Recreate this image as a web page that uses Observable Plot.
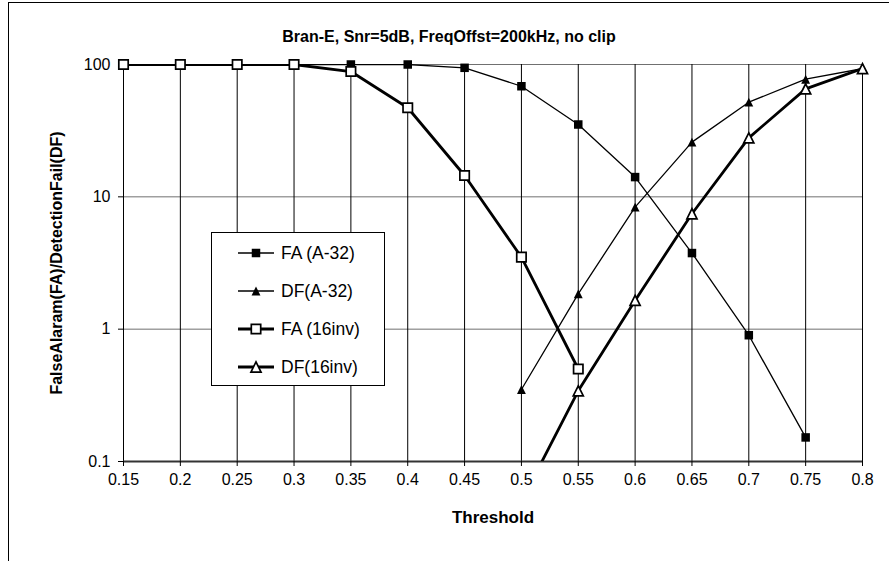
<!DOCTYPE html>
<html><head><meta charset="utf-8">
<script src="https://cdn.jsdelivr.net/npm/d3@7"></script>
<script src="https://cdn.jsdelivr.net/npm/@observablehq/plot@0.6"></script>
<style>
body{margin:0;background:#fff;font-family:"Liberation Sans",Arial,sans-serif;}
#wrap{position:relative;width:889px;height:561px;overflow:hidden;background:#fff;}
#wrap svg.plot{position:absolute;left:0;top:0;}
#frame{position:absolute;left:8px;top:2px;width:900px;height:600px;border-left:1px solid #000;border-top:1px solid #000;pointer-events:none}
#legend{position:absolute;left:211px;top:232px;width:172px;height:152px;border:1px solid #000;background:#fff;}
.item{position:absolute;left:0;height:20px;width:172px;}
.item svg{position:absolute;left:24px;top:0;}
.item span{position:absolute;left:69px;top:0;line-height:20px;font-size:17.5px;color:#000;white-space:nowrap;}
</style></head><body><div id="wrap"><div id="frame"></div></div>
<script>
// ---- data ----
const thresholds = [0.15,0.2,0.25,0.3,0.35,0.4,0.45,0.5,0.55,0.6,0.65,0.7,0.75,0.8];
const xTickLabels = ["0.15","0.2","0.25","0.3","0.35","0.4","0.45","0.5","0.55","0.6","0.65","0.7","0.75","0.8"];
const yTicks = [0.1,1,10,100];
const yTickLabels = ["0.1","1","10","100"];
const seriesNames = ["FA (A-32)","DF(A-32)","FA (16inv)","DF(16inv)"];
const faA32 = [100,100,100,100,100,100,94.4,68.5,35.2,14.1,3.76,0.9,0.152,null];
const dfA32 = [null,null,null,null,null,null,null,0.35,1.85,8.36,25.9,51.9,77.4,93];
const fa16inv = [100,100,100,100,88.5,47.1,14.5,3.5,0.5,null,null,null,null,null];
const df16inv = [null,null,null,null,null,null,null,0.05,0.342,1.65,7.45,27.9,65.5,93];
const titleText = "Bran-E, Snr=5dB, FreqOffst=200kHz, no clip";
const xLabel = "Threshold";
const yLabel = "FalseAlaram(FA)/DetectionFail(DF)";

// ---- symbols (Excel-like: square, isosceles triangle with equal width/height) ----
const sqSym = {draw(ctx, size){const s=Math.sqrt(size)/2; ctx.moveTo(-s,-s); ctx.lineTo(s,-s); ctx.lineTo(s,s); ctx.lineTo(-s,s); ctx.closePath();}};
const triSym = {draw(ctx, size){const s=Math.sqrt(size)/2; ctx.moveTo(0,-s); ctx.lineTo(s,s); ctx.lineTo(-s,s); ctx.closePath();}};

const styles = [
  {vals: faA32, sym: sqSym, r: 4.8, fill: "#000", stroke: "none", sw: 0, lw: 1.3},
  {vals: dfA32, sym: triSym, r: 5.0, fill: "#000", stroke: "none", sw: 0, lw: 1.3},
  {vals: fa16inv, sym: sqSym, r: 5.3, fill: "#fff", stroke: "#000", sw: 1.7, lw: 2.8},
  {vals: df16inv, sym: triSym, r: 5.7, fill: "#fff", stroke: "#000", sw: 1.7, lw: 2.8}
];

const rowsFor = (name, vals) => thresholds.map((x,i)=>({series:name, x, y: vals[i]})).filter(d=>d.y!=null);
const xFmt = d => xTickLabels[thresholds.findIndex(t=>Math.abs(t-d)<1e-9)];
const yFmt = d => yTickLabels[yTicks.findIndex(t=>Math.abs(t-d)<1e-9)];

const font = '"Liberation Sans", Arial, sans-serif';
const seriesMarks = [];
styles.forEach((s, k) => {
  const data = rowsFor(seriesNames[k], s.vals);
  seriesMarks.push(Plot.line(data, {x:"x", y:"y", stroke:"#000", strokeWidth:s.lw, clip:true}));
  seriesMarks.push(Plot.dot(data, {x:"x", y:"y", filter: d=>d.y>=0.1, symbol:s.sym, r:s.r, fill:s.fill, stroke:s.stroke, strokeWidth:s.sw}));
});

const chart = Plot.plot({
  width: 889, height: 561,
  marginLeft: 123, marginRight: 27, marginTop: 64, marginBottom: 100,
  style: {fontFamily: font, fontSize: "16px", color: "#000", background: "transparent", overflow: "visible"},
  x: {domain: [0.15, 0.8]},
  y: {type: "log", domain: [0.1, 100]},
  marks: [
    Plot.ruleY([1,10,100], {stroke:"#707070", strokeWidth:1}),
    Plot.ruleX(thresholds, {stroke:"#000", strokeWidth:1}),
    Plot.ruleY([0.1], {stroke:"#333", strokeWidth:2}),
    Plot.axisX({ticks: thresholds, tickFormat: xFmt, tickSize: 5, tickPadding: 7, fontSize: 16, label: null, stroke:"#000"}),
    Plot.axisY({ticks: yTicks, tickFormat: yFmt, tickSize: 5, tickPadding: 8, fontSize: 16, label: null, stroke:"#000"}),
    ...seriesMarks,
    Plot.text([titleText], {text: d=>d, frameAnchor: "top", dx: -44, dy: -28, fontSize: 16, fontWeight: "bold", lineAnchor: "middle", fill:"#000"}),
    Plot.text([xLabel], {text: d=>d, frameAnchor: "bottom", dy: 56, fontSize: 17, fontWeight: "bold", lineAnchor: "middle", fill:"#000"}),
    Plot.text([yLabel], {text: d=>d, frameAnchor: "left", dx: -67, rotate: -90, fontSize: 16, fontWeight: "bold", lineAnchor: "middle", textAnchor: "middle", fill:"#000"})
  ]
});
chart.classList.add("plot");
const wrap = document.getElementById("wrap");
wrap.insertBefore(chart, wrap.firstChild);

// ---- legend ----
const legend = document.createElement("div");
legend.id = "legend";
const centers = [20, 58, 96, 134];
styles.forEach((s, k) => {
  const item = document.createElement("div");
  item.className = "item";
  item.style.top = (centers[k] - 10) + "px";
  const p = d3.path(); s.sym.draw(p, Math.PI * s.r * s.r);
  item.innerHTML = `<svg width="40" height="20"><line x1="2" x2="38" y1="10" y2="10" stroke="#000" stroke-width="${s.lw}"/>` +
    `<path transform="translate(20,10)" d="${p.toString()}" fill="${s.fill}" stroke="${s.stroke}" stroke-width="${s.sw}"/></svg>` +
    `<span>${seriesNames[k]}</span>`;
  legend.appendChild(item);
});
wrap.appendChild(legend);
</script>
</body></html>
